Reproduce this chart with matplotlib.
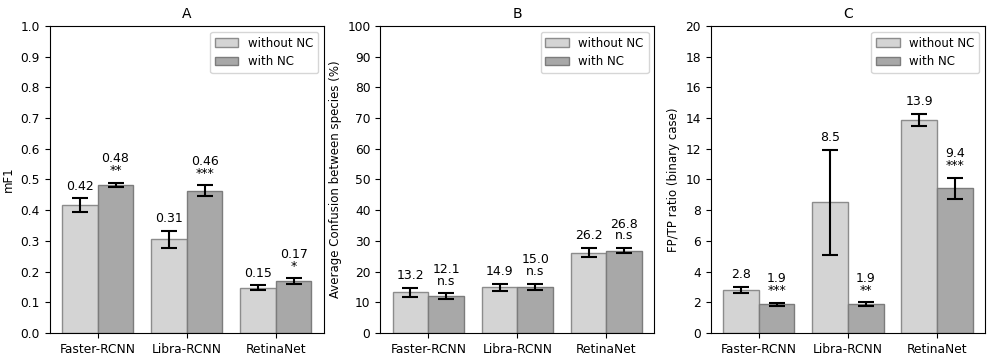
import matplotlib
matplotlib.use("Agg")
import matplotlib.pyplot as plt
import numpy as np

models = ["Faster-RCNN", "Libra-RCNN", "RetinaNet"]
series = ["without NC", "with NC"]

# Panel A: mF1
a_without = [0.417, 0.305, 0.148]
a_without_err = [0.022, 0.027, 0.008]
a_with = [0.482, 0.464, 0.168]
a_with_err = [0.007, 0.017, 0.010]
a_lab_without = ["0.42", "0.31", "0.15"]
a_lab_with = ["0.48", "0.46", "0.17"]
a_sig = ["**", "***", "*"]

# Panel B: Average confusion between species (%)
b_without = [13.2, 14.9, 26.2]
b_without_err = [1.5, 1.2, 1.6]
b_with = [12.1, 15.0, 26.8]
b_with_err = [0.9, 1.0, 0.9]
b_lab_without = ["13.2", "14.9", "26.2"]
b_lab_with = ["12.1", "15.0", "26.8"]
b_sig = ["n.s", "n.s", "n.s"]

# Panel C: FP/TP ratio
c_without = [2.8, 8.52, 13.87]
c_without_err = [0.22, 3.43, 0.42]
c_with = [1.86, 1.88, 9.42]
c_with_err = [0.12, 0.13, 0.7]
c_lab_without = ["2.8", "8.5", "13.9"]
c_lab_with = ["1.9", "1.9", "9.4"]
c_sig = ["***", "**", "***"]

fig, axes = plt.subplots(1, 3, figsize=(9.92, 3.55), dpi=100)
fig.subplots_adjust(left=0.05, right=0.993, top=0.927, bottom=0.062, wspace=0.205)

panels = [
    ("A", "mF1", (0, 1.0), np.arange(0, 1.01, 0.1), "{:.1f}", a_without, a_without_err, a_with, a_with_err, a_lab_without, a_lab_with, a_sig),
    ("B", "Average Confusion between species (%)", (0, 100), np.arange(0, 101, 10), "{:.0f}", b_without, b_without_err, b_with, b_with_err, b_lab_without, b_lab_with, b_sig),
    ("C", "FP/TP ratio (binary case)", (0, 20), np.arange(0, 21, 2), "{:.0f}", c_without, c_without_err, c_with, c_with_err, c_lab_without, c_lab_with, c_sig),
]

x = np.arange(len(models))
w = 0.4
fs = 9
ekw = dict(elinewidth=1.5, capthick=1.5, ecolor="black")
for ax, (title, ylabel, ylim, yt, fmt, wo, woe, wi, wie, lwo, lwi, sig) in zip(axes, panels):
    ax.bar(x - w / 2, wo, w, yerr=woe, color="#d4d4d4", edgecolor="#8c8c8c", linewidth=1.0,
           capsize=6, error_kw=ekw, label=series[0])
    ax.bar(x + w / 2, wi, w, yerr=wie, color="#a8a8a8", edgecolor="#7c7c7c", linewidth=1.0,
           capsize=6, error_kw=ekw, label=series[1])
    for i in range(len(models)):
        ax.annotate(lwo[i], (x[i] - w / 2, wo[i] + woe[i]), xytext=(0, 4), textcoords="offset points",
                    ha="center", va="bottom", fontsize=fs)
        ax.annotate(sig[i], (x[i] + w / 2, wi[i] + wie[i]), xytext=(0, 4), textcoords="offset points",
                    ha="center", va="bottom", fontsize=fs)
        ax.annotate(lwi[i], (x[i] + w / 2, wi[i] + wie[i]), xytext=(0, 12.5), textcoords="offset points",
                    ha="center", va="bottom", fontsize=fs)
    ax.set_ylim(*ylim)
    ax.set_yticks(yt)
    ax.set_yticklabels([fmt.format(v) for v in yt])
    ax.set_xticks(x)
    ax.set_xticklabels(models)
    ax.set_title(title, fontsize=10)
    ax.set_ylabel(ylabel, fontsize=8.5)
    ax.tick_params(labelsize=8.8)
    ax.legend(loc="upper right", fontsize=8.5)

fig.savefig("out.png", dpi=100)
